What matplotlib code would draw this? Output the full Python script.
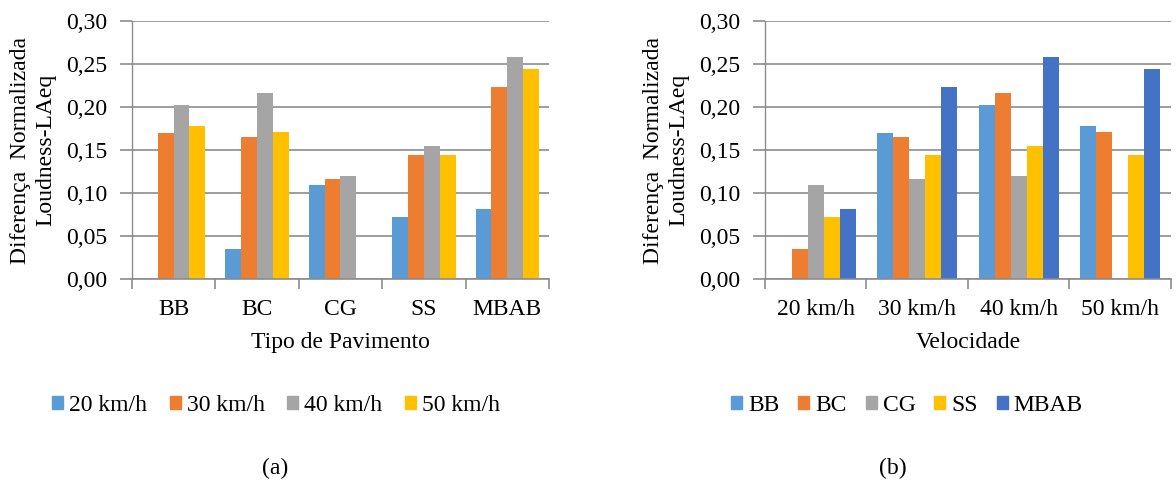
import numpy as np
import matplotlib
matplotlib.use("Agg")
import matplotlib.pyplot as plt
from matplotlib.patches import Patch
from matplotlib.ticker import FuncFormatter, FixedLocator

plt.rcParams["font.family"] = ["Liberation Serif", "DejaVu Serif"]

# Loudness-LAeq normalised difference, one row per pavement, one column per speed
pavimentos = ["BB", "BC", "CG", "SS", "MBAB"]
velocidades = ["20 km/h", "30 km/h", "40 km/h", "50 km/h"]
bb = [np.nan, 0.170, 0.203, 0.178]
bc = [0.035, 0.166, 0.217, 0.171]
cg = [0.110, 0.117, 0.120, np.nan]
ss = [0.072, 0.144, 0.155, 0.144]
mbab = [0.082, 0.224, 0.259, 0.245]

cores_vel = ["#5B9BD5", "#ED7D31", "#A5A5A5", "#FFC000"]
cores_pav = ["#5B9BD5", "#ED7D31", "#A5A5A5", "#FFC000", "#4472C4"]

dados = np.array([bb, bc, cg, ss, mbab])  # (pavimento, velocidade)

GRID = "#8C8C8C"
FS = 17


def formata(v, pos):
    return f"{v:.2f}".replace(".", ",")


def estilo(ax, n):
    ax.set_ylim(0, 0.30)
    ax.set_xlim(-0.5, n - 0.5)
    ax.yaxis.set_major_locator(FixedLocator(np.arange(0, 0.31, 0.05)))
    ax.yaxis.set_major_formatter(FuncFormatter(formata))
    ax.grid(axis="y", color=GRID, linewidth=1.2)
    ax.set_axisbelow(True)
    for s in ["top", "right"]:
        ax.spines[s].set_visible(False)
    ax.spines["left"].set_color(GRID)
    ax.spines["bottom"].set_color(GRID)
    ax.spines["left"].set_linewidth(1.0)
    ax.spines["bottom"].set_linewidth(1.2)
    ax.tick_params(axis="y", length=9, color=GRID, width=1.2, labelsize=FS, pad=9)
    # category ticks sit on the boundaries, labels in the middle
    ax.set_xticks(np.arange(n))
    ax.tick_params(axis="x", length=0, labelsize=FS, pad=14)
    ax.set_xticks(np.arange(n + 1) - 0.5, minor=True)
    ax.tick_params(axis="x", which="minor", length=7, color=GRID, width=1.2)
    ax.set_ylabel("Diferença  Normalizada\nLoudness-LAeq", fontsize=FS,
                  linespacing=1.25, labelpad=7)


fig = plt.figure(figsize=(11.76, 4.96), dpi=100)
ax1 = fig.add_axes([0.1122, 0.4369, 0.3546, 0.5202])
ax2 = fig.add_axes([0.6505, 0.4369, 0.3452, 0.5202])

# (a) grouped by pavement
w1 = 0.19
x1 = np.arange(len(pavimentos))
for j, vel in enumerate(velocidades):
    ax1.bar(x1 + (j - 1.5) * w1, dados[:, j], w1, color=cores_vel[j], label=vel)
estilo(ax1, len(pavimentos))
ax1.set_xticklabels(pavimentos)
ax1.set_xlabel("Tipo de Pavimento", fontsize=FS, labelpad=9)

# (b) grouped by speed
w2 = 0.158
x2 = np.arange(len(velocidades))
for i, pav in enumerate(pavimentos):
    ax2.bar(x2 + (i - 2) * w2, dados[i, :], w2, color=cores_pav[i], label=pav)
estilo(ax2, len(velocidades))
ax2.set_xticklabels(velocidades)
ax2.set_xlabel("Velocidade", fontsize=FS, labelpad=9)

leg_kw = dict(loc="center", ncol=5, frameon=False, fontsize=FS,
              handlelength=0.47, handleheight=0.47, handletextpad=0.25)
h1 = [Patch(color=c, label=l) for c, l in zip(cores_vel, velocidades)]
fig.legend(handles=h1, bbox_to_anchor=(0.2347, 0.183), columnspacing=0.95, **leg_kw)
h2 = [Patch(color=c, label=l) for c, l in zip(cores_pav, pavimentos)]
fig.legend(handles=h2, bbox_to_anchor=(0.7713, 0.183), columnspacing=0.8, **leg_kw)

fig.text(0.2338, 0.056, "(a)", ha="center", va="center", fontsize=FS)
fig.text(0.7594, 0.056, "(b)", ha="center", va="center", fontsize=FS)

fig.savefig("out.png", dpi=100)
